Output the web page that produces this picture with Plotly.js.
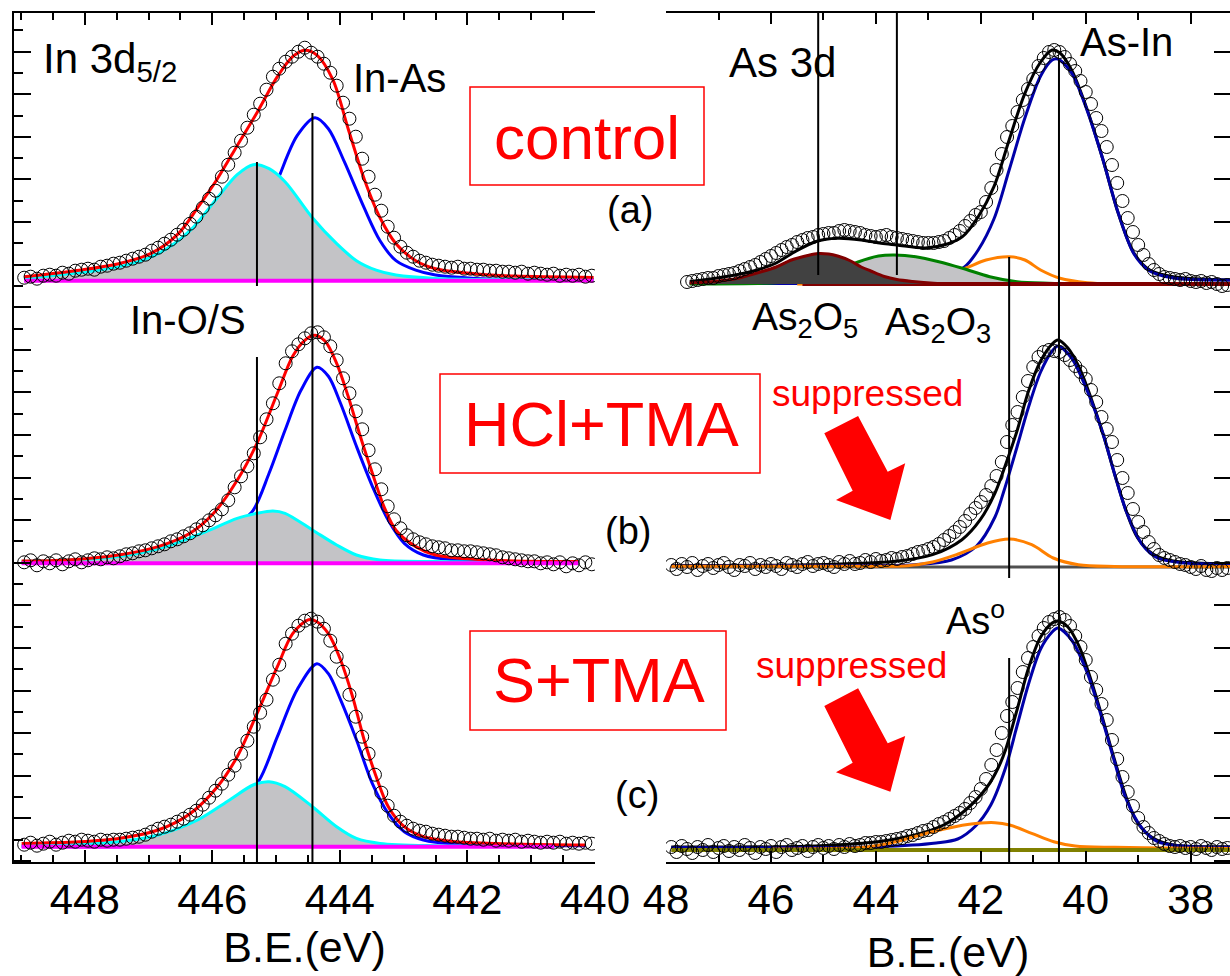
<!DOCTYPE html>
<html><head><meta charset="utf-8">
<script src="https://cdn.plot.ly/plotly-3.0.1.min.js"></script>
<style>html,body{margin:0;padding:0;background:#fff}</style>
</head><body><div id="chart" style="width:1230px;height:976px"></div>
<script>
// ---------------- DATA ----------------
// In 3d5/2 (left column), binding energies of measured points (eV)
const leftE = [448.95,448.85,448.75,448.65,448.55,448.45,448.35,448.25,448.15,448.05,
 447.95,447.85,447.75,447.65,447.55,447.45,447.35,447.25,447.15,447.05,
 446.95,446.85,446.75,446.65,446.55,446.45,446.35,446.25,446.15,446.05,
 445.95,445.85,445.75,445.65,445.55,445.45,445.35,445.25,445.15,445.05,
 444.95,444.85,444.75,444.65,444.55,444.45,444.35,444.25,444.15,444.05,
 443.95,443.85,443.75,443.65,443.55,443.45,443.35,443.25,443.15,443.05,
 442.95,442.85,442.75,442.65,442.55,442.45,442.35,442.25,442.15,442.05,
 441.95,441.85,441.75,441.65,441.55,441.45,441.35,441.25,441.15,441.05,
 440.95,440.85,440.75,440.65,440.55,440.45,440.35,440.25,440.15,440.05];
const inDataControl = [3,4,2,5,6,5,8,7,10,11, 12,11,14,15,17,18,20,22,24,26, 30,33,37,41,46,51,57,64,73,82,
 90,104,116,128,140,153,166,177,191,204, 212,219,224,229,233,228,224,217,208,195,
 178,162,144,122,104,86,70,54,43,34, 28,24,20,18,16,15,14,13,14,12, 12,11,11,10,10,9,9,8,9,7, 8,7,6,7,5,6,5,6,4,5];
const inDataHCl = [1,3,-2,2,0,3,-1,2,4,1, 3,5,4,6,5,7,9,10,12,13, 15,17,19,22,24,27,30,34,38,43,
 48,54,63,76,87,97,110,126,144,160, 180,200,212,219,225,230,231,226,217,203,
 185,170,152,134,113,94,74,57,44,35, 28,24,21,19,17,16,15,13,13,12, 12,11,10,9,8,6,5,4,3,2, 2,0,1,-1,1,-3,0,-2,1,-1];
const inDataS = [2,4,1,3,5,2,4,6,5,7, 6,5,7,6,7,7,8,9,10,12, 15,18,20,22,25,28,32,36,42,49,
 56,63,72,81,93,106,120,134,147,167, 182,203,213,221,226,228,225,218,206,190,
 175,152,130,110,93,72,54,41,31,25, 21,18,16,15,13,12,11,10,10,9, 8,8,7,8,6,7,6,7,5,6, 5,4,5,4,5,3,4,3,4,3];

// In 3d fit curves (envelope red, In-As blue, In-O/S cyan)
const redA_E = [448.95,448.09,447.47,446.97,446.54,446.23,445.92,445.61,445.30,444.98,444.74,444.55,444.36,444.11,443.87,443.62,443.37,443.12,442.81,442.50,441.88,441.26,440.02];
const redA   = [3.9,10.5,17,27,46.6,73,102,135,168,204,224,230.5,225.6,201,152,102,63,37,20,12,7,4.6,3.3];
const blueA_E = [448.95,447.5,446.54,446.23,445.92,445.61,445.30,444.98,444.67,444.39,444.18,443.93,443.62,443.37,443.12,442.81,442.50,441.88,440.02];
const blueA   = [1,2,4,7,19,29,52,100,145,163,152,119,73,40,20,10.5,5.6,2.3,1.3];
const cyanA_E = [448.95,447.47,446.85,446.35,445.92,445.61,445.36,445.11,444.86,444.43,444.05,443.74,443.43,443.12,442.50,440.02];
const cyanA   = [2.3,13.8,27,50,83,106,116,112,99,63,37,20,10.5,5.6,2.3,1];

const redB_E = [448.99,448.28,447.47,446.85,446.35,445.98,445.61,445.30,444.98,444.74,444.55,444.39,444.23,444.05,443.87,443.68,443.49,443.31,443.12,442.81,442.50,441.88,441.26,440.26];
const redB   = [2.3,3.3,8.3,16.7,30,50,83,120,170,207,223,228,222,200,167,127,90,57,33,16.7,8.3,4,2.3,1.7];
const blueB_E = [448.99,447.0,446.35,445.98,445.61,445.36,445.11,444.86,444.61,444.36,444.18,443.99,443.74,443.49,443.24,442.99,442.69,442.19,441.26,440.26];
const blueB   = [0.5,1.5,5,12,38,53,90,133,173,196,187,160,117,77,43,20,8.3,3.3,1.7,0.7];
const cyanB_E = [448.99,447.47,446.72,446.10,445.61,445.30,445.05,444.86,444.43,444.05,443.74,443.37,442.50,440.26];
const cyanB   = [1.7,6.7,16.7,31.7,45,50,52.3,50,33.3,18.3,8.3,3.3,1.7,0.7];

const redC_E = [448.99,448.09,447.47,446.85,446.35,445.92,445.61,445.30,444.98,444.74,444.49,444.36,444.18,443.99,443.80,443.62,443.43,443.24,442.99,442.69,442.19,441.26,440.14];
const redC   = [3.3,5,8.3,16.7,33,60,90,133,180,213,227,225,213,187,150,107,70,40,20,10,5,2.7,1.7];
const blueC_E = [448.99,447.0,446.35,445.92,445.61,445.26,444.98,444.67,444.36,444.18,443.99,443.74,443.49,443.24,442.99,442.69,442.19,440.14];
const blueC   = [0.5,1.5,9,23,40,67,110,157,183,173,147,107,63,33,15,6.7,2.7,1];
const cyanC_E = [448.99,447.47,446.85,446.23,445.73,445.36,445.11,444.86,444.43,444.05,443.74,443.37,442.50,440.64];
const cyanC   = [1,5,11.7,26.7,46.7,61.7,65,60,40,20,8.3,3.3,1,0.7];

// As 3d (right column)
const rightE = [47.9,47.8,47.7,47.6,47.5,47.4,47.3,47.2,47.1,47.0,
 46.9,46.8,46.7,46.6,46.5,46.4,46.3,46.2,46.1,46.0,
 45.9,45.8,45.7,45.6,45.5,45.4,45.3,45.2,45.1,45.0,
 44.9,44.8,44.7,44.6,44.5,44.4,44.3,44.2,44.1,44.0,
 43.9,43.8,43.7,43.6,43.5,43.4,43.3,43.2,43.1,43.0,
 42.9,42.8,42.7,42.6,42.5,42.4,42.3,42.2,42.1,42.0,
 41.9,41.8,41.7,41.6,41.5,41.4,41.3,41.2,41.1,41.0,
 40.9,40.8,40.7,40.6,40.5,40.4,40.3,40.2,40.1,40.0,
 39.9,39.8,39.7,39.6,39.5,39.4,39.3,39.2,39.1,39.0,
 38.9,38.8,38.7,38.6,38.5,38.4,38.3,38.2,38.1,38.0,
 37.9,37.8,37.7,37.6,37.5,37.4,37.3];
const asDataControl = [null,null,null,2,3,4,5,6,6,8, 9,10,11,13,15,17,19,22,25,28, 31,34,37,39,42,44,46,47,49,50,
 51,51,53,54,53,52,51,49,48,47, 48,49,47,46,45,44,43,42,41,41, 41,42,43,46,49,53,58,63,69,72,
 82,96,114,130,147,158,172,184,195,205, 218,226,232,234,232,227,220,213,203,192,
 180,166,153,137,119,101,83,66,52,39, 29,20,14,10,7,6,5,4,5,3, 2,3,1,2,0,-2,-1];
const asDataHCl = [2,-2,3,0,4,-3,1,3,-1,2, 4,0,-3,2,1,4,-2,2,0,3, 1,-2,4,2,0,3,5,1,3,4,
 2,0,5,3,6,3,4,7,5,8, 6,7,9,8,10,11,13,15,16,18, 20,23,27,31,35,40,46,53,59,65,
 72,81,91,105,125,142,155,170,186,200, 210,215,217,216,215,212,207,201,195,188,
 177,165,150,138,125,107,89,74,58,45, 35,25,18,12,9,7,5,3,2,0, -2,1,-3,-4,-1,-3,-1];
const asDataS = [3,-2,4,1,-3,3,0,5,-2,2, 4,-1,3,0,5,2,-3,3,1,4, -2,3,5,0,2,4,-1,3,5,2,
 4,1,5,3,6,4,5,7,7,8, 8,9,10,11,12,14,15,17,19,20, 23,26,28,31,34,37,41,47,53,61,
 71,85,100,117,134,148,162,178,192,203, 214,222,228,231,233,230,224,214,203,190,
 173,160,146,130,110,91,73,58,44,32, 23,17,12,9,6,4,3,4,2,3, 1,4,2,0,3,1,2];

// As 3d fit curves: envelope (black), As-In (blue), As0 (orange), As2O3 (green), As2O5 (dark red)
const blackA_E = [47.55,46.79,46.2,45.9,45.55,45.14,44.73,44.28,43.90,43.60,43.06,42.64,42.35,42.05,41.75,41.46,41.16,40.86,40.64,40.49,40.27,39.97,39.67,39.38,39.08,38.78,38.33,37.25];
const blackA   = [2.3,8,15,21,32,42.5,45.7,44,40.7,39,36,40,47.3,67.3,97.3,144,190.7,222,234,231,214,174,124,70.7,30.7,14,7.3,4];
const blueRA_E = [47.55,43.5,42.9,42.6,42.31,42.05,41.75,41.46,41.16,40.86,40.64,40.53,40.27,39.97,39.67,39.38,39.08,38.78,38.33,37.25];
const blueRA   = [0.5,1.5,4,9,17,34,65,114,166,208,224,225,211,173,124,71,30,13,6,4];
const orangeA_E = [45.5,43.5,42.9,42.6,42.28,41.90,41.46,41.16,40.86,40.49,39.97,39.5];
const orangeA   = [0,1,5,10,16,24,27.3,24,14,5.7,1.3,0.3];
const greenA_E = [47.55,46.0,45.5,45.0,44.6,44.34,43.95,43.65,43.24,42.80,42.35,41.83,41.31,40.71,40.0];
const greenA   = [0,1,3,8,16,22,28,29,27.3,22.3,15.7,7.3,2.3,0.7,0];
const darkA_E = [47.55,47.0,46.66,46.2,45.9,45.61,45.30,45.10,44.90,44.73,44.50,44.28,44.10,43.84,43.60,43.30,42.90,42.5];
const darkA   = [1,3,5.5,12,17,24,28.5,30.5,30,28,23.5,17,13,7.5,4.5,2.5,0.7,0];

const blackB_E = [47.9,45.5,44.43,43.62,42.92,42.36,42.01,41.73,41.53,41.31,41.09,40.86,40.64,40.53,40.34,40.12,39.90,39.67,39.45,39.23,39.01,38.71,38.33,37.25];
const blackB   = [1.5,2,3.5,5.7,12.3,27.3,47.3,74,102,136,176,206,223,227,219,199,169,133,93,56,29,12.7,6,3.3];
const blueRB_E = [47.9,43.8,43.26,42.56,42.08,41.73,41.56,41.31,41.09,40.86,40.64,40.53,40.27,39.97,39.67,39.45,39.23,38.93,38.63,38.18,37.25];
const blueRB   = [1,1.5,2.3,7,21,50,76,120,160,195,216,221,209,176,133,93,56,23,9,4.3,2.7];
const orangeB_E = [47.9,44.0,43.40,42.92,42.43,41.87,41.45,41.03,40.62,40.14,39.45,37.25];
const orangeB   = [0.7,0.8,1.3,5,13,24,28,22.3,9,2.3,0.5,0.5];

const blackC_E = [47.9,45.5,44.79,43.96,43.26,42.71,42.29,41.88,41.67,41.53,41.31,41.09,40.86,40.64,40.53,40.34,40.12,39.90,39.67,39.45,39.23,39.01,38.71,38.33,37.25];
const blackC   = [3,3.5,5,8.3,15,25,40,63,82,100,140,182,213,227,229,223,203,170,130,90,53,27,11.7,5,3.3];
const blueRC_E = [47.9,43.96,42.85,42.44,42.1,41.81,41.53,41.31,41.09,40.86,40.64,40.53,40.27,39.97,39.67,39.45,39.23,38.93,38.63,38.18,37.25];
const blueRC   = [2.5,3.3,7,11,24,45,82,124,166,201,218,222,210,177,128,88,51,22,8.3,4,2.7];
const orangeC_E = [46.0,44.8,44.24,43.62,42.92,42.22,41.73,41.45,41.03,40.61,40.2,39.45,38.5,37.25];
const orangeC   = [1,1.5,2.7,8.3,18.3,25.7,27.3,25,16.7,8.3,4,2.7,2,1.5];

// component positions (eV) marked by vertical lines
const inPeaks = [445.30, 444.43];            // In-O/S, In-As
const asPeaks = [45.10, 43.60, 41.46, 40.51];// As2O5, As2O3, As0, As-In

// tick labels
const leftTicks = [448, 446, 444, 442, 440];
const rightTicks = [48, 46, 44, 42, 40, 38];

// ---------------- LAYOUT HELPERS ----------------
const W = 1230, H = 976;
const PX = x => x / W, PY = y => 1 - y / H;
const FONT = '"Liberation Sans", Arial, Helvetica, sans-serif';
const OFF_L = [581.3, 298.7, 15.3];   // vertical offsets of stacked spectra (axis units)
const OFF_R = [578, 295, 12];
const sh = (arr, off) => arr.map(v => v === null ? null : v + off);

function ln(E, V, off, color, width, xa, ya) {
  return {type:'scatter', mode:'lines', x:E, y:sh(V, off), xaxis:xa, yaxis:ya,
    line:{color:color, width:width, shape:'spline', smoothing:0.9}, hoverinfo:'skip'};
}
function fl(E, V, off, color, xa, ya) {
  const x = E.concat(E.slice().reverse());
  const y = sh(V, off).concat(E.map(() => off));
  return {type:'scatter', mode:'lines', x:x, y:y, xaxis:xa, yaxis:ya, fill:'toself',
    fillcolor:color, line:{width:0, shape:'spline', smoothing:0.9}, hoverinfo:'skip'};
}
function base(E, off, color, width, xa, ya) {
  return {type:'scatter', mode:'lines', x:[E[0], E[E.length-1]], y:[off, off], xaxis:xa, yaxis:ya,
    line:{color:color, width:width}, hoverinfo:'skip'};
}
function pts(E, V, off, xa, ya) {
  return {type:'scatter', mode:'markers', x:E, y:sh(V, off), xaxis:xa, yaxis:ya,
    marker:{symbol:'circle-open', size:13, color:'#000', line:{width:1, color:'#000'}}, hoverinfo:'skip'};
}

const GRAY = '#c3c3c6', DARK = '#414141';
const traces = [];
// Left column
const L = [
  [redA_E, redA, blueA_E, blueA, cyanA_E, cyanA, inDataControl],
  [redB_E, redB, blueB_E, blueB, cyanB_E, cyanB, inDataHCl],
  [redC_E, redC, blueC_E, blueC, cyanC_E, cyanC, inDataS]
];
L.forEach((r, i) => {
  const o = OFF_L[i];
  traces.push(ln(r[2], r[3], o, '#0000ff', 3, 'x', 'y'));
  traces.push(fl(r[4], r[5], o, GRAY, 'x', 'y'));
  traces.push(ln(r[4], r[5], o, '#00ffff', 3, 'x', 'y'));
  traces.push(ln(r[0], r[1], o, '#ff0000', 3, 'x', 'y'));
  traces.push(base(r[4], o, '#ff00ff', 4, 'x', 'y'));
  traces.push(pts(leftE, r[6], o, 'x', 'y'));
});
// Right column, control
let o = OFF_R[0];
traces.push(ln(blackA_E, blackA, o, '#000000', 3, 'x2', 'y2'));
traces.push(ln(blueRA_E, blueRA, o, '#0000a8', 3, 'x2', 'y2'));
traces.push(ln(orangeA_E, orangeA, o, '#ff8000', 3, 'x2', 'y2'));
traces.push(fl(greenA_E, greenA, o, GRAY, 'x2', 'y2'));
traces.push(ln(greenA_E, greenA, o, '#008000', 3, 'x2', 'y2'));
traces.push(base([45.4, 37.25], o, '#800000', 4, 'x2', 'y2'));
traces.push(fl(darkA_E, darkA, o, DARK, 'x2', 'y2'));
traces.push(ln(darkA_E, darkA, o, '#800000', 3, 'x2', 'y2'));
traces.push(pts(rightE, asDataControl, o, 'x2', 'y2'));
// HCl+TMA
o = OFF_R[1];
traces.push(base(blackB_E, o, '#505050', 3, 'x2', 'y2'));
traces.push(ln(blackB_E, blackB, o, '#000000', 3, 'x2', 'y2'));
traces.push(ln(blueRB_E, blueRB, o, '#0000a8', 3, 'x2', 'y2'));
traces.push(ln(orangeB_E, orangeB, o, '#ff8000', 3, 'x2', 'y2'));
traces.push(pts(rightE, asDataHCl, o, 'x2', 'y2'));
// S+TMA
o = OFF_R[2];
traces.push(ln(blackC_E, blackC, o, '#000000', 3, 'x2', 'y2'));
traces.push(ln(blueRC_E, blueRC, o, '#0000a8', 3, 'x2', 'y2'));
traces.push(ln(orangeC_E, orangeC, o, '#ff8000', 3, 'x2', 'y2'));
traces.push(base(blackC_E, o, '#808000', 4, 'x2', 'y2'));
traces.push(pts(rightE, asDataS, o, 'x2', 'y2'));

// ---------------- SHAPES ----------------
const shapes = [];
function vline(xa, ya, x, y0, y1) {
  shapes.push({type:'line', xref:xa, yref:ya, x0:x, x1:x, y0:y0, y1:y1, line:{color:'#000', width:2}});
}
vline('x', 'y', inPeaks[1], 0, 749);
vline('x', 'y', inPeaks[0], 576, 700);
vline('x', 'y', inPeaks[0], 0, 505);
vline('x2', 'y2', asPeaks[0], 587, 849);
vline('x2', 'y2', asPeaks[1], 587, 849);
vline('x2', 'y2', asPeaks[2], 284, 605);
vline('x2', 'y2', asPeaks[2], 0, 204);
vline('x2', 'y2', asPeaks[3], 0, 802);

function box(x0, y0, x1, y1) {
  shapes.push({type:'rect', xref:'paper', yref:'paper', x0:PX(x0), x1:PX(x1), y0:PY(y1), y1:PY(y0),
    line:{color:'#ff0000', width:1.5}, fillcolor:'rgba(0,0,0,0)'});
}
box(470, 87, 704, 185);
box(440, 374, 760, 473);
box(470, 631, 726, 730);

function arrow(p) {
  const d = 'M ' + p.map(q => PX(q[0]).toFixed(5) + ',' + PY(q[1]).toFixed(5)).join(' L ') + ' Z';
  shapes.push({type:'path', xref:'paper', yref:'paper', path:d, fillcolor:'#ff0000', line:{width:0}});
}
arrow([[824.3,433.3],[858.1,416],[887.7,471.7],[905.2,463.3],[890.4,520],[836,500],[852.7,490.7]]);
arrow([[824.3,706],[858.1,688.3],[887.7,743.3],[905.2,736],[890.4,791.7],[836,772.3],[852.7,762.7]]);

// ---------------- ANNOTATIONS ----------------
const ann = [];
function txt(t, x, y, size, color, xanchor) {
  ann.push({text:t, x:PX(x), y:PY(y), xref:'paper', yref:'paper', showarrow:false,
    xanchor:xanchor || 'center', yanchor:'middle', font:{family:FONT, size:size, color:color || '#000'}});
}
txt('In 3d<sub>5/2</sub>', 41, 62, 42, '#000', 'left');
txt('In-As', 399, 78, 40);
txt('In-O/S', 188, 320, 40);
txt('(a)', 630, 210, 38);
txt('(b)', 628, 531, 38);
txt('(c)', 637, 795, 38);
txt('control', 586.5, 137, 62, '#ff0000');
txt('HCl+TMA', 601, 424, 63, '#ff0000');
txt('S+TMA', 599, 680, 63, '#ff0000');
txt('As 3d', 782, 63, 42);
txt('As-In', 1126, 42, 40);
txt('As<sub>2</sub>O<sub>5</sub>', 750, 320, 39, '#000', 'left');
txt('As<sub>2</sub>O<sub>3</sub>', 883, 325, 39, '#000', 'left');
txt('suppressed', 867, 393, 37, '#ff0000');
txt('suppressed', 851.5, 665, 37, '#ff0000');
txt('As<sup>o</sup>', 944, 618, 38, '#000', 'left');

// ---------------- AXES ----------------
const tf = {family:FONT, size:42, color:'#000'};
const common = {showgrid:false, zeroline:false, showline:true, linecolor:'#000', linewidth:2,
  ticks:'inside', tickcolor:'#000', tickwidth:2};
const layout = {
  width:W, height:H, margin:{l:0, r:0, t:0, b:0}, paper_bgcolor:'#fff', plot_bgcolor:'rgba(0,0,0,0)',
  showlegend:false, hovermode:false,
  xaxis: Object.assign({}, common, {domain:[PX(14), PX(595)], range:[449.11, 439.999], anchor:'y',
    mirror:'allticks', ticklen:12, tickmode:'array', tickvals:leftTicks, ticktext:leftTicks.map(String),
    minor:{dtick:0.5, tick0:440, ticks:'inside', ticklen:7, tickwidth:2, tickcolor:'#000', showgrid:false},
    tickfont:tf, title:{text:'B.E.(eV)', font:{family:FONT, size:43, color:'#000'}, standoff:8}}),
  yaxis: Object.assign({}, common, {domain:[PY(862), PY(13)], range:[0, 849], anchor:'x',
    ticklen:17, tick0:43.7, dtick:42.59, showticklabels:false,
    minor:{tick0:43.7, dtick:21.295, ticks:'inside', ticklen:9, tickwidth:2, tickcolor:'#000', showgrid:false}}),
  xaxis2: Object.assign({}, common, {domain:[PX(666), 1], range:[48.001, 37.25], anchor:'y2',
    mirror:'allticks', ticklen:11, tickmode:'array', tickvals:rightTicks, ticktext:rightTicks.map(String),
    minor:{dtick:1, tick0:38, ticks:'inside', ticklen:7, tickwidth:2, tickcolor:'#000', showgrid:false},
    tickfont:tf, title:{text:'B.E.(eV)', font:{family:FONT, size:43, color:'#000'}, standoff:18}}),
  yaxis2: Object.assign({}, common, {domain:[PY(862), PY(13)], range:[0, 849], anchor:'x2', side:'right',
    showline:false, ticklen:16, tick0:43.7, dtick:42.59, showticklabels:false}),
  shapes:shapes, annotations:ann
};
Plotly.newPlot('chart', traces, layout, {staticPlot:true, displayModeBar:false});
</script></body></html>
